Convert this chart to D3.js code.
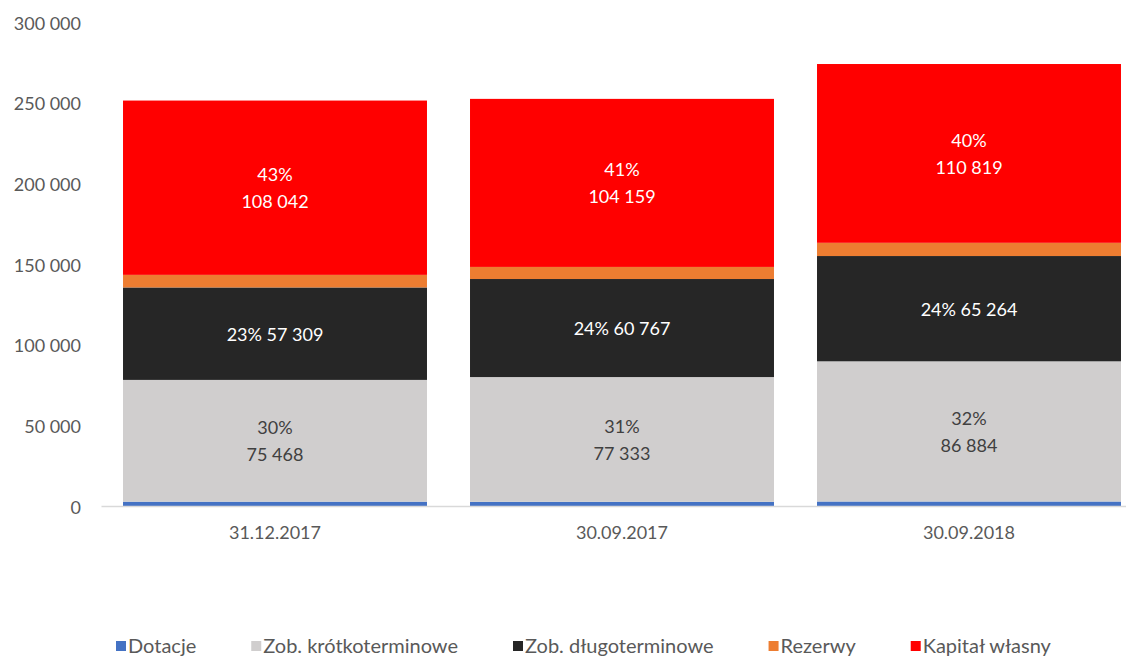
<!DOCTYPE html>
<html>
<head>
<meta charset="utf-8">
<script src="https://cdn.jsdelivr.net/npm/d3@7"></script>
<style>
  html, body { margin: 0; padding: 0; background: #fff; }
  svg { display: block; }
  text { font-family: Lato, "Liberation Sans", sans-serif; }
</style>
</head>
<body>
<svg id="chart" width="1126" height="656"></svg>
<script>
// ---- data ----
const categories = ["31.12.2017", "30.09.2017", "30.09.2018"];
const seriesNames = ["Dotacje", "Zob. krótkoterminowe", "Zob. długoterminowe", "Rezerwy", "Kapitał własny"];
const dotacje = [3000, 2900, 3100];
const zobKrotko = [75468, 77333, 86884];
const zobDlugo = [57309, 60767, 65264];
const rezerwy = [7800, 7500, 8200];
const kapital = [108042, 104159, 110819];
const pctKrotko = ["30%", "31%", "32%"];
const pctDlugo = ["23%", "24%", "24%"];
const pctKapital = ["43%", "41%", "40%"];
const yTicks = [0, 50000, 100000, 150000, 200000, 250000, 300000];

// ---- styles ----
const colors = ["#4472C4", "#D0CECE", "#262626", "#ED7D31", "#FF0000"];

const svg = d3.select("#chart");
const W = 1126, H = 656;
const x0 = 101.5, x1 = 1142.5, yTop = 22.5, yBottom = 506.5;

const locale = d3.formatLocale({ decimal: ",", thousands: " ", grouping: [3], currency: ["", " zł"] });
const fmt = locale.format(",d");

const x = d3.scaleBand().domain(categories).range([x0, x1]).paddingInner(0.124).paddingOuter(0.062);
const y = d3.scaleLinear().domain([0, 300000]).range([yBottom, yTop]);

const valueArrays = [dotacje, zobKrotko, zobDlugo, rezerwy, kapital];
const rows = categories.map((c, i) => {
  const r = { cat: c };
  seriesNames.forEach((s, k) => r[s] = valueArrays[k][i]);
  return r;
});
const stack = d3.stack().keys(seriesNames)(rows);

// bars
const layers = svg.append("g").selectAll("g").data(stack).join("g")
  .attr("fill", (d, i) => colors[i]);
layers.selectAll("rect").data(d => d).join("rect")
  .attr("x", d => x(d.data.cat))
  .attr("width", x.bandwidth())
  .attr("y", d => y(d[1]))
  .attr("height", d => y(d[0]) - y(d[1]));

// axis line
svg.append("line")
  .attr("x1", x0).attr("x2", W)
  .attr("y1", yBottom).attr("y2", yBottom)
  .attr("stroke", "#D9D9D9").attr("stroke-width", 1.3);

// y tick labels
svg.append("g").selectAll("text").data(yTicks).join("text")
  .attr("x", 81).attr("y", d => y(d))
  .attr("text-anchor", "end").attr("dominant-baseline", "central")
  .attr("font-size", 18).attr("fill", "#595959")
  .text(d => fmt(d));

// x labels
svg.append("g").selectAll("text").data(categories).join("text")
  .attr("x", d => x(d) + x.bandwidth() / 2).attr("y", 539)
  .attr("text-anchor", "middle")
  .attr("font-size", 18).attr("fill", "#595959")
  .text(d => d);

// data labels
function segMid(k, i) { const s = stack[k][i]; return (y(s[0]) + y(s[1])) / 2; }
const lab = svg.append("g").attr("font-size", 18).attr("text-anchor", "middle");
categories.forEach((c, i) => {
  const cx = x(c) + x.bandwidth() / 2;
  let m = segMid(1, i);
  lab.append("text").attr("x", cx).attr("y", m - 13.5).attr("dominant-baseline", "central")
    .attr("fill", "#404040").text(pctKrotko[i]);
  lab.append("text").attr("x", cx).attr("y", m + 13.5).attr("dominant-baseline", "central")
    .attr("fill", "#404040").text(fmt(zobKrotko[i]));
  m = segMid(2, i);
  lab.append("text").attr("x", cx).attr("y", m).attr("dominant-baseline", "central")
    .attr("fill", "#FFFFFF").text(pctDlugo[i] + " " + fmt(zobDlugo[i]));
  m = segMid(4, i);
  lab.append("text").attr("x", cx).attr("y", m - 13.5).attr("dominant-baseline", "central")
    .attr("fill", "#FFFFFF").text(pctKapital[i]);
  lab.append("text").attr("x", cx).attr("y", m + 13.5).attr("dominant-baseline", "central")
    .attr("fill", "#FFFFFF").text(fmt(kapital[i]));
});

// legend
const leg = svg.append("g");
let lx = 116;
seriesNames.forEach((s, k) => {
  leg.append("rect").attr("x", lx).attr("y", 641).attr("width", 10).attr("height", 10).attr("fill", colors[k]);
  const t = leg.append("text").attr("x", lx + 12).attr("y", 653)
    .attr("font-size", 20).attr("fill", "#595959").text(s);
  const w = t.node().getComputedTextLength();
  lx = lx + 12 + w + 55;
});
</script>
</body>
</html>
